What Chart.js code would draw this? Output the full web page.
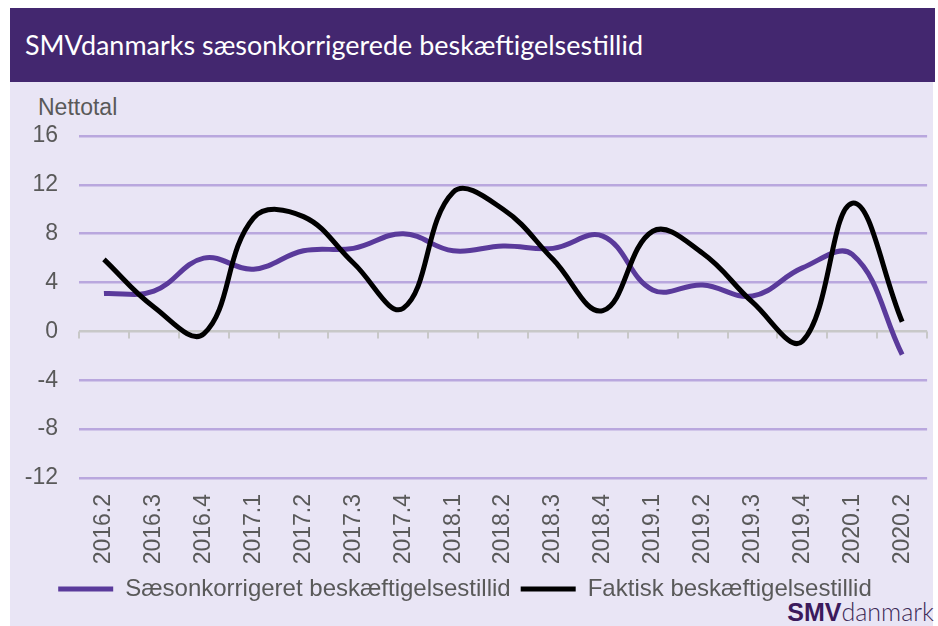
<!DOCTYPE html>
<html>
<head>
<meta charset="utf-8">
<script src="https://cdn.jsdelivr.net/npm/chart.js@4/dist/chart.umd.min.js"></script>
<style>
    html, body { margin: 0; padding: 0; background: #ffffff; }
    #wrap { position: relative; width: 938px; height: 626px; overflow: hidden; }
    #titlebar {
        position: absolute; left: 10px; top: 8px; width: 925px; height: 74px;
        background: #43276f;
    }
    #titletext {
        position: absolute; left: 15px; top: 20px;
        font-family: Lato, "Open Sans", sans-serif; font-size: 27px; color: #ffffff;
        white-space: nowrap; transform-origin: 0 50%;
    }
    #panel {
        position: absolute; left: 10px; top: 82px; width: 923px; height: 544px;
        background: #e9e5f5;
    }
    #unit {
        position: absolute; left: 38px; top: 94px;
        font-family: "Liberation Sans", Arial, sans-serif; font-size: 23px; color: #595959;
    }
    #logo {
        position: absolute; right: 4px; top: 596px;
        font-family: "Liberation Sans", Arial, sans-serif; font-size: 25px; color: #3d2a57;
        white-space: nowrap;
    }
    #logo b { color: #3b1a5c; }
    #logo span { font-family: Lato, sans-serif; font-weight: 300; }
    canvas { position: absolute; left: 0; top: 0; }
</style>
</head>
<body>
<div id="wrap">
    <div id="titlebar"><div id="titletext">SMVdanmarks sæsonkorrigerede beskæftigelsestillid</div></div>
    <div id="panel"></div>
    <div id="unit">Nettotal</div>
    <div id="logo"><b>SMV</b><span>danmark</span></div>
    <canvas id="chart" width="938" height="626"></canvas>
</div>
<script>
// Quarters on the x axis
const quarters = ['2016.2', '2016.3', '2016.4', '2017.1', '2017.2', '2017.3', '2017.4', '2018.1', '2018.2',
    '2018.3', '2018.4', '2019.1', '2019.2', '2019.3', '2019.4', '2020.1', '2020.2'];

// Net totals
const saesonkorrigeret = [3.1, 3.3, 6.0, 5.1, 6.6, 6.8, 8.0, 6.6, 7.0, 6.8, 7.8, 3.4, 3.8, 2.9, 5.2, 6.3, -1.9];
const faktisk = [5.9, 2.0, -0.2, 9.3, 9.4, 5.6, 1.9, 11.4, 10.0, 5.9, 1.7, 8.2, 6.4, 2.4, -0.8, 10.5, 0.8];

const yMin = -12;
const yMax = 16;
const yStep = 4;

// squeeze the title so it fits the width of the original
const title = document.getElementById('titletext');
const tw = title.getBoundingClientRect().width;
title.style.transform = 'scaleX(' + (618 / tw) + ')';

const tickFont = { family: '"Liberation Sans", Arial, sans-serif', size: 23 };
const legendFont = { family: '"Liberation Sans", Arial, sans-serif', size: 24 };
const textColor = '#595959';

// short tick marks below the zero line between the categories
const zeroTicks = {
    id: 'zeroTicks',
    beforeDatasetsDraw(chart) {
        const x = chart.scales.x;
        const y = chart.scales.y;
        const y0 = y.getPixelForValue(0);
        const half = (x.getPixelForValue(1) - x.getPixelForValue(0)) / 2;
        const ctx = chart.ctx;
        ctx.save();
        ctx.strokeStyle = '#c8c8c8';
        ctx.lineWidth = 2;
        ctx.beginPath();
        for (let i = 0; i <= quarters.length; i++) {
            const px = Math.round(x.getPixelForValue(i) - half);
            ctx.moveTo(px, y0);
            ctx.lineTo(px, y0 + 7);
        }
        ctx.stroke();
        ctx.restore();
    }
};

new Chart(document.getElementById('chart'), {
    type: 'line',
    data: {
        labels: quarters,
        datasets: [{
            label: 'Sæsonkorrigeret beskæftigelsestillid',
            data: saesonkorrigeret,
            borderColor: '#5a3a9b',
            backgroundColor: '#5a3a9b',
            borderWidth: 5,
            pointRadius: 0,
            tension: 0.4,
            order: 1
        }, {
            label: 'Faktisk beskæftigelsestillid',
            data: faktisk,
            borderColor: '#000000',
            backgroundColor: '#000000',
            borderWidth: 5,
            pointRadius: 0,
            tension: 0.4,
            order: 0
        }]
    },
    options: {
        responsive: false,
        animation: false,
        layout: { padding: { left: 0, top: 136, right: 8, bottom: 15 } },
        plugins: {
            legend: {
                position: 'bottom',
                labels: {
                    usePointStyle: true,
                    pointStyle: 'line',
                    pointStyleWidth: 55,
                    boxHeight: 20,
                    padding: 10,
                    color: textColor,
                    font: legendFont,
                    sort: (a, b) => a.datasetIndex - b.datasetIndex
                }
            },
            tooltip: { enabled: false }
        },
        scales: {
            x: {
                offset: true,
                grid: { display: false },
                border: { display: false },
                ticks: {
                    color: textColor,
                    font: tickFont,
                    minRotation: 90,
                    maxRotation: 90,
                    padding: 8
                },
                afterFit: (scale) => { scale.height = 89; }
            },
            y: {
                min: yMin,
                max: yMax,
                border: { display: false },
                grid: {
                    drawTicks: false,
                    lineWidth: 2.5,
                    color: (c) => c.tick && c.tick.value === 0 ? '#c8c8c8' : '#b9a7de'
                },
                ticks: {
                    stepSize: yStep,
                    color: textColor,
                    font: tickFont,
                    padding: 21
                },
                afterFit: (scale) => { scale.width = 79; }
            }
        }
    },
    plugins: [zeroTicks]
});
</script>
</body>
</html>
